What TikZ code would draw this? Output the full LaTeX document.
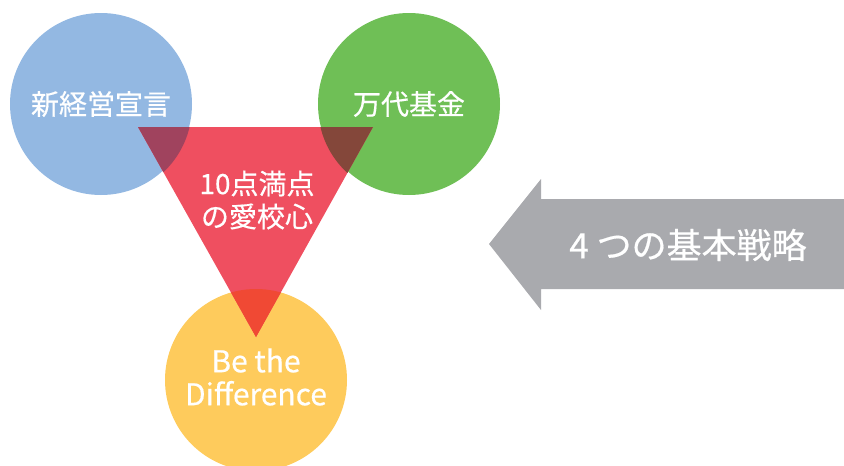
\documentclass[tikz,border=0pt]{standalone}
\usepackage{fontspec}
\setmainfont{Noto Sans CJK JP}[FakeBold=0.5]
\definecolor{cblue}{HTML}{93B8E2}
\definecolor{cgreen}{HTML}{6FBF56}
\definecolor{cyellow}{HTML}{FECB5C}
\definecolor{cred}{HTML}{EF4F60}
\definecolor{cbr}{HTML}{A0435E}
\definecolor{cgr}{HTML}{84473A}
\definecolor{cyr}{HTML}{F04934}
\definecolor{cgrey}{HTML}{A9AAAE}
\begin{document}
\begin{tikzpicture}[x=1pt,y=-1pt,
  bubble/.style={circle,minimum size=182pt,inner sep=0pt,text=white,align=center,
    font=\fontsize{28}{33}\selectfont},
  lbl/.style={text=white,align=center,font=\fontsize{28}{33}\selectfont}]
\useasboundingbox (0,0) rectangle (844,466);
\node[bubble,fill=cblue] (blue) at (101,104) {新経営宣言};
\node[bubble,fill=cgreen] (green) at (409,104) {万代基金};
\node[bubble,fill=cyellow] (yellow) at (256,380) {};
\coordinate (tl) at (138,127);
\coordinate (tr) at (373,127);
\coordinate (tb) at (256,337);
\fill[cred] (tl) -- (tr) -- (tb) -- cycle;
\begin{scope}
  \clip (tl) -- (tr) -- (tb) -- cycle;
  \fill[cbr] (101,106) circle (91);
  \fill[cgr] (409,106) circle (91);
  \fill[cyr] (yellow.center) circle (91);
\end{scope}
\node[lbl] (core) at (257,200) {10点満点\\の愛校心};
\node[lbl,font=\fontsize{30}{33}\selectfont] (diff) at (256,377) {Be the\\Difference};
\coordinate (atip) at (489,244);
\fill[cgrey] (atip) -- (541,179) -- (541,199) -- (844,199) -- (844,289) -- (541,289) -- (541,310) -- cycle;
\node[lbl,font=\fontsize{35}{35}\selectfont] (strat) at (688,245) {4 つの基本戦略};
\end{tikzpicture}
\end{document}
